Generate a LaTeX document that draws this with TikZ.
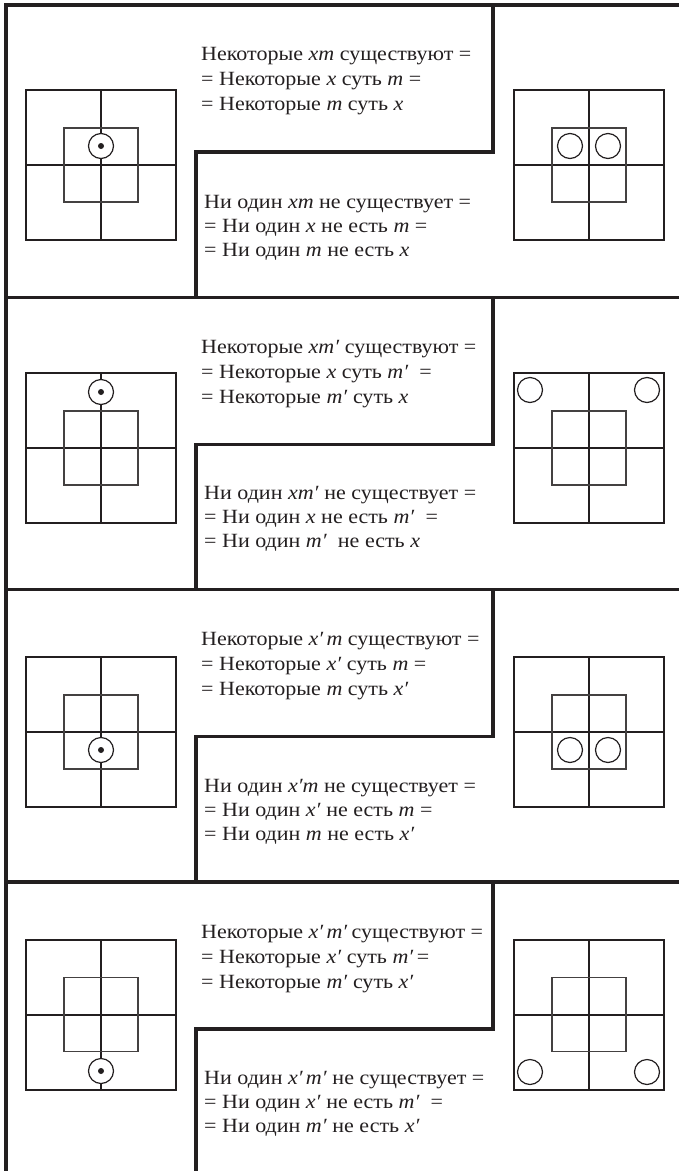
\documentclass[tikz,border=0pt]{standalone}
\usepackage{fontspec}
\setmainfont{Liberation Serif}[FakeStretch=1.09]
\definecolor{ink}{HTML}{231F20}
\tikzset{
  frame/.style={draw=ink, line width=3.2pt, line cap=rect},
  grid/.style={draw=ink, line width=2pt},
  inner/.style={draw=ink!85, line width=1.5pt},
  ring/.style={draw=ink, line width=1.2pt, fill=white},
  dotc/.style={fill=ink},
  txt/.style={anchor=base west, inner sep=0pt, text=ink, font=\fontsize{20.2}{24}\selectfont},
}
\newcommand\mygrid[2]{%
  \draw[grid] (#1-75,#2-75) rectangle (#1+75,#2+75);
  \draw[grid] (#1-75,#2) -- (#1+75,#2);
  \draw[grid] (#1,#2-75) -- (#1,#2+75);
  \draw[inner] (#1-37,#2-37) rectangle (#1+37,#2+37);
}
\begin{document}
\begin{tikzpicture}[x=1pt,y=-1pt]
\useasboundingbox (0,0) rectangle (679,1171);
% frame
\draw[frame] (6,1171) -- (6,5) -- (679,5);
\foreach \y in {297.3,589.6,881.9} \draw[frame] (6,\y) -- (679,\y);
\foreach \y/\n in {5/297.3,297.3/589.6,589.6/881.9,881.9/1171}
  \draw[frame] (493,\y) -- (493,\y+147) -- (196,\y+147) -- (196,\n);
% grids
\foreach \c in {165,448,732,1014.5} {
  \mygrid{101}{\c}
  \mygrid{589}{\c}
}
% row 1 circles
\draw[ring] (101,146) circle[radius=12.5pt]; \fill[dotc] (101,146) circle[radius=3pt];
\draw[ring] (570,146) circle[radius=12.5pt];
\draw[ring] (608,146) circle[radius=12.5pt];
% row 2
\draw[ring] (101,392) circle[radius=12.5pt]; \fill[dotc] (101,392) circle[radius=3pt];
\draw[ring] (530,390) circle[radius=12.5pt];
\draw[ring] (647,390) circle[radius=12.5pt];
% row 3
\draw[ring] (101,750) circle[radius=12.5pt]; \fill[dotc] (101,750) circle[radius=3pt];
\draw[ring] (570,750) circle[radius=12.5pt];
\draw[ring] (608,750) circle[radius=12.5pt];
% row 4
\draw[ring] (101,1071) circle[radius=12.5pt]; \fill[dotc] (101,1071) circle[radius=3pt];
\draw[ring] (530,1072) circle[radius=12.5pt];
\draw[ring] (647,1072) circle[radius=12.5pt];
% texts row 1
\node[txt] (a1) at (201,60) {Некоторые \textit{xm} существуют =};
\node[txt] (a2) at (201,85) {= Некоторые \textit{x} суть \textit{m} =};
\node[txt] (a3) at (201,110) {= Некоторые \textit{m} суть \textit{x}};
\node[txt] (b1) at (204,208) {Ни один \textit{xm} не существует =};
\node[txt] (b2) at (204,232) {= Ни один \textit{x} не есть \textit{m} =};
\node[txt] (b3) at (204,256) {= Ни один \textit{m} не есть \textit{x}};
% row 2
\node[txt] (c1) at (201,353) {Некоторые \textit{xm′} существуют =};
\node[txt] (c2) at (201,378) {= Некоторые \textit{x} суть \textit{m′}\ \ =};
\node[txt] (c3) at (201,403) {= Некоторые \textit{m′} суть \textit{x}};
\node[txt] (d1) at (204,499) {Ни один \textit{xm′} не существует =};
\node[txt] (d2) at (204,523) {= Ни один \textit{x} не есть \textit{m′}\ \ =};
\node[txt] (d3) at (204,547) {= Ни один \textit{m′}\ \ не есть \textit{x}};
% row 3
\node[txt] (e1) at (201,645) {Некоторые \textit{x′\,m} существуют =};
\node[txt] (e2) at (201,670) {= Некоторые \textit{x′} суть \textit{m} =};
\node[txt] (e3) at (201,695) {= Некоторые \textit{m} суть \textit{x′}};
\node[txt] (f1) at (204,792) {Ни один \textit{x′m} не существует =};
\node[txt] (f2) at (204,816) {= Ни один \textit{x′} не есть \textit{m} =};
\node[txt] (f3) at (204,840) {= Ни один \textit{m} не есть \textit{x′}};
% row 4
\node[txt] (g1) at (201,938) {Некоторые \textit{x′\,m′}\kern-1.5pt\ существуют =};
\node[txt] (g2) at (201,963) {= Некоторые \textit{x′} суть \textit{m′}\,=};
\node[txt] (g3) at (201,988) {= Некоторые \textit{m′} суть \textit{x′}};
\node[txt] (h1) at (204,1084) {Ни один \textit{x′\,m′} не существует =};
\node[txt] (h2) at (204,1108) {= Ни один \textit{x′} не есть \textit{m′}\ \ =};
\node[txt] (h3) at (204,1132) {= Ни один \textit{m′} не есть \textit{x′}};
\end{tikzpicture}
\end{document}
